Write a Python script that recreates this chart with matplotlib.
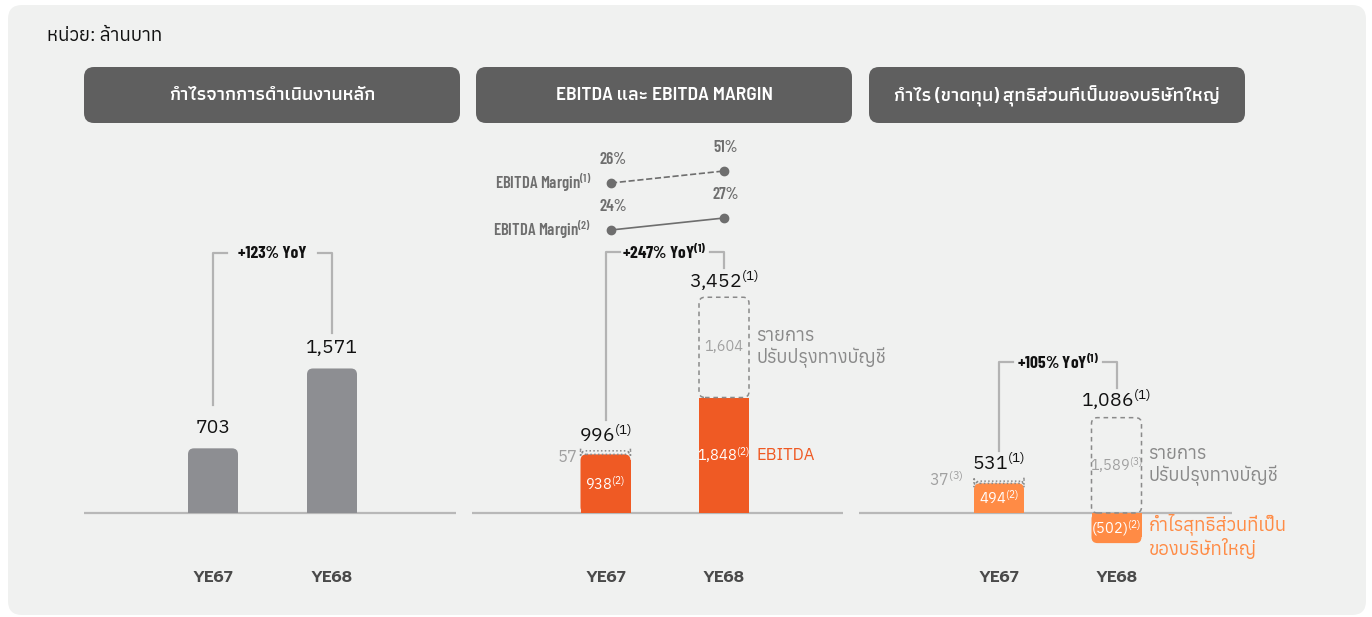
import matplotlib
matplotlib.use("Agg")
import matplotlib.pyplot as plt
from matplotlib import font_manager
from matplotlib.patches import FancyBboxPatch
from matplotlib.transforms import IdentityTransform
from matplotlib.lines import Line2D

# ---- data ----
years = ["YE67", "YE68"]
core_profit = [703, 1571]
ebitda = [938, 1848]
ebitda_adj = [57, 1604]
ebitda_total = ["996", "3,452"]
margin_1 = [26, 51]
margin_2 = [24, 27]
np_parent = [494, -502]
np_adj = [37, 1589]
np_total = ["531", "1,086"]
yoy = ["+123% YoY", "+247% YoY", "+105% YoY"]
titles = ["กำไรจากการดำเนินงานหลัก", "EBITDA และ EBITDA MARGIN",
          "กำไร (ขาดทุน) สุทธิส่วนที่เป็นของบริษัทใหญ่"]

# ---- fonts ----
have = {f.name for f in font_manager.fontManager.ttflist}


def pick(*names):
    return [n for n in names if n in have] + ["DejaVu Sans"]


BODY = pick("Anuphan", "Noto Sans Thai", "Noto Sans")
BOLD = pick("Prompt", "Kanit", "Noto Sans")
COND = pick("Barlow Condensed", "Oswald", "Roboto Condensed", "Archivo Narrow")
HEAD = [pick("Barlow Semi Condensed", "Barlow Condensed", "Roboto Condensed")[0]] + pick("Athiti", "Noto Sans Thai")
plt.rcParams["font.family"] = BODY
plt.rcParams["mathtext.default"] = "regular"

BG = "#f0f1f0"
HEADER = "#5f5f5f"
LINE = "#b8b8b8"
GREY_BAR = "#8d8e92"
ORANGE = "#ef5a24"
LIGHT_OR = "#ff8b45"
GREY_TXT = "#8a8a8a"
DARK = "#111111"

W, H = 1372, 617
fig = plt.figure(figsize=(W / 100, H / 100), dpi=100)
fig.patch.set_facecolor("white")


def rect_px(x0, y0, x1, y1, r, color):
    fig.patches.append(FancyBboxPatch((x0, H - y1), x1 - x0, y1 - y0,
                                      boxstyle=f"round,pad=0,rounding_size={r}",
                                      fc=color, ec="none", zorder=-10,
                                      transform=IdentityTransform()))


def ftext(x, y, s, **kw):
    fig.text(x / W, 1 - y / H, s, **kw)


def sup(s, n):
    return s + "$^{(" + str(n) + ")}$"


rect_px(8, 5, 1366, 615, 14, BG)
ftext(47, 36, "หน่วย: ล้านบาท", fontsize=13.5, va="center", color=DARK)

header_x = [(84, 460), (476, 852), (869, 1245)]
for (x0, x1), t in zip(header_x, titles):
    rect_px(x0, 67, x1, 123, 10, HEADER)
    ftext((x0 + x1) / 2, 96, t, fontsize=14, color="white", ha="center", va="center",
          family=HEAD, weight="semibold")


def make_ax(left, right, xc0, xc1, scale):
    xs = xc1 - xc0
    top, bottom, base = 130, 560, 513
    ax = fig.add_axes([left / W, 1 - bottom / H, (right - left) / W, (bottom - top) / H])
    ax.set_xlim((left - xc0) / xs, (right - xc0) / xs)
    ax.set_ylim(-(bottom - base) / scale, (base - top) / scale)
    ax.axis("off")
    ax.patch.set_alpha(0)
    ax.axhline(0, color=LINE, lw=1.6, zorder=1)
    return ax


def px_units(ax):
    xs = ax.bbox.width / (ax.get_xlim()[1] - ax.get_xlim()[0])
    ys = ax.bbox.height / (ax.get_ylim()[1] - ax.get_ylim()[0])
    return xs, ys


def rbox(ax, x, y0, h, r_px=6, w_px=50, **kw):
    xs, ys = px_units(ax)
    w = w_px / xs
    p = FancyBboxPatch((x - w / 2, y0), w, h,
                       boxstyle=f"round,pad=0,rounding_size={r_px / xs}",
                       mutation_aspect=xs / ys, **kw)
    ax.add_patch(p)


def rbar(ax, x, v, color, r_px=6, round_end=True):
    xs, ys = px_units(ax)
    w = 50 / xs
    if not round_end:
        ax.bar(x, v, width=w, color=color, zorder=3)
        return
    ry = r_px / ys
    rbox(ax, x, min(v, 0), abs(v), r_px, fc=color, ec="none", zorder=3)
    core = v - ry if v > 0 else v + ry
    ax.bar(x, core, width=w, color=color, zorder=3)


def to_px(ax, x, y):
    dx, dy = ax.transData.transform((x, y))
    return dx, H - dy


def bracket(ax, tops, level, label, gap=30):
    (x0, y0), (x1, y1) = [to_px(ax, i, t) for i, t in enumerate(tops)]
    stub = 14
    segs = [[(x0, y0 - gap[0]), (x0, level), (x0 + stub, level)],
            [(x1 - stub, level), (x1, level), (x1, y1 - gap[1])]]
    for s in segs:
        fig.add_artist(Line2D([p[0] for p in s], [H - p[1] for p in s],
                              color="#b3b3b3", lw=1.6, transform=IdentityTransform()))
    ftext((x0 + x1) / 2, level, label, fontsize=12.5, family=COND, weight="bold",
          ha="center", va="center", color=DARK)


def cat_labels(ax):
    for i, y in enumerate(years):
        ax.annotate(y, (i, 0), xytext=(0, -65), textcoords="offset pixels",
                    ha="center", va="center", fontsize=12, family=BOLD,
                    weight="semibold", color="#4a4a4a")


# ---- panel 1 ----
ax1 = make_ax(84, 456, 213, 332, 0.092)
for i, v in enumerate(core_profit):
    rbar(ax1, i, v, GREY_BAR)
    ax1.annotate(f"{v:,}", (i, v), xytext=(0, 15), textcoords="offset pixels",
                 ha="center", va="baseline", fontsize=14, color=DARK)
cat_labels(ax1)
bracket(ax1, core_profit, 253, yoy[0], gap=(43, 35))

# ---- panel 2 ----
ax2 = make_ax(472, 843, 605.5, 724, 0.0625)
for i in range(2):
    v, a = ebitda[i], ebitda_adj[i]
    small = a * 0.0625 < 20
    rbar(ax2, i, v, ORANGE, round_end=small)
    rbox(ax2, i, v, a, r_px=6, fc="none", ec="#8a8a8a", lw=1.1,
         ls=(0, (1, 1.5)) if small else (0, (3, 2.5)), zorder=4)
    ax2.annotate(sup(f"{v:,}", 2), (i, v / 2), ha="center", va="center",
                 fontsize=10.5, color="white", zorder=5)
    if small:
        ax2.annotate(f"{a:,}", (i, v + a / 2), xytext=(-28, -4), textcoords="offset pixels",
                     ha="right", va="center", fontsize=12, color="#a0a0a0")
    else:
        ax2.annotate(f"{a:,}", (i, v + a / 2), ha="center", va="center",
                     fontsize=10.5, color="#a0a0a0")
    ax2.annotate(sup(ebitda_total[i], 1), (i, v + a), xytext=(0, 9), textcoords="offset pixels",
                 ha="center", va="baseline", fontsize=14, color=DARK)
ax2.annotate("EBITDA", (1, ebitda[1] / 2), xytext=(32, 0), textcoords="offset pixels",
             ha="left", va="center", fontsize=12, color=ORANGE)
ax2.annotate("รายการ\nปรับปรุงทางบัญชี", (1, ebitda[1] + ebitda_adj[1] / 2), xytext=(32, 0),
             textcoords="offset pixels", ha="left", va="center", fontsize=13.3,
             color=GREY_TXT, linespacing=1.15)
cat_labels(ax2)
bracket(ax2, [ebitda[i] + ebitda_adj[i] for i in range(2)], 252, sup(yoy[1], 1), gap=(31, 29))

# margin rows
for vals, top, ls, n in [(margin_1, 171, "--", 1), (margin_2, 218, "-", 2)]:
    m = fig.add_axes([611 / W, 1 - (top + 12) / H, 113 / W, 12 / H])
    m.set_xlim(0, 1)
    m.set_ylim(vals[0], vals[1])
    m.axis("off")
    m.patch.set_alpha(0)
    m.plot([0, 1], vals, color="#6e6e6e", lw=1.2, ls=ls, marker="o", ms=6, clip_on=False)
    for i, v in enumerate(vals):
        m.annotate(f"{v}%", (i, v), xytext=(2, 16), textcoords="offset pixels", ha="center",
                   va="bottom", fontsize=12, family=COND, weight="semibold", color="#6e6e6e")
    m.annotate(sup("EBITDA Margin", n), (0, vals[0]), xytext=(-20, 0), textcoords="offset pixels",
               ha="right", va="center", fontsize=12, family=COND, weight="semibold", color="#6e6e6e")

# ---- panel 3 ----
ax3 = make_ax(859, 1232, 999, 1116.5, 0.06)
for i in range(2):
    v, a = np_parent[i], np_adj[i]
    small = a * 0.06 < 20
    base = max(v, 0)
    rbar(ax3, i, v, LIGHT_OR)
    rbox(ax3, i, base, a, r_px=6, fc="none", ec="#8a8a8a", lw=1.1,
         ls=(0, (1, 1.5)) if small else (0, (3, 2.5)), zorder=4)
    txt = f"{v:,}" if v > 0 else f"({-v:,})"
    ax3.annotate(sup(txt, 2), (i, v / 2), ha="center", va="center",
                 fontsize=10.5, color="white", zorder=5)
    if small:
        ax3.annotate(sup(f"{a:,}", 3), (i, base + a / 2), xytext=(-35, 3), textcoords="offset pixels",
                     ha="right", va="center", fontsize=11.5, color="#a0a0a0")
    else:
        ax3.annotate(sup(f"{a:,}", 3), (i, base + a / 2), ha="center", va="center",
                     fontsize=10.5, color="#a0a0a0")
    ax3.annotate(sup(np_total[i], 1), (i, base + a), xytext=(0, 11), textcoords="offset pixels",
                 ha="center", va="baseline", fontsize=14, color=DARK)
ax3.annotate("รายการ\nปรับปรุงทางบัญชี", (1, np_adj[1] / 2), xytext=(32, 0),
             textcoords="offset pixels", ha="left", va="center", fontsize=13.3,
             color=GREY_TXT, linespacing=1.15)
ax3.annotate("กำไรสุทธิส่วนที่เป็น\nของบริษัทใหญ่", (1, np_parent[1] / 2), xytext=(32, -8),
             textcoords="offset pixels", ha="left", va="center", fontsize=13.3,
             color=LIGHT_OR, linespacing=1.15)
cat_labels(ax3)
bracket(ax3, [max(np_parent[i], 0) + np_adj[i] for i in range(2)], 362, sup(yoy[2], 1), gap=(30, 30))

fig.savefig("out.png", dpi=100)
